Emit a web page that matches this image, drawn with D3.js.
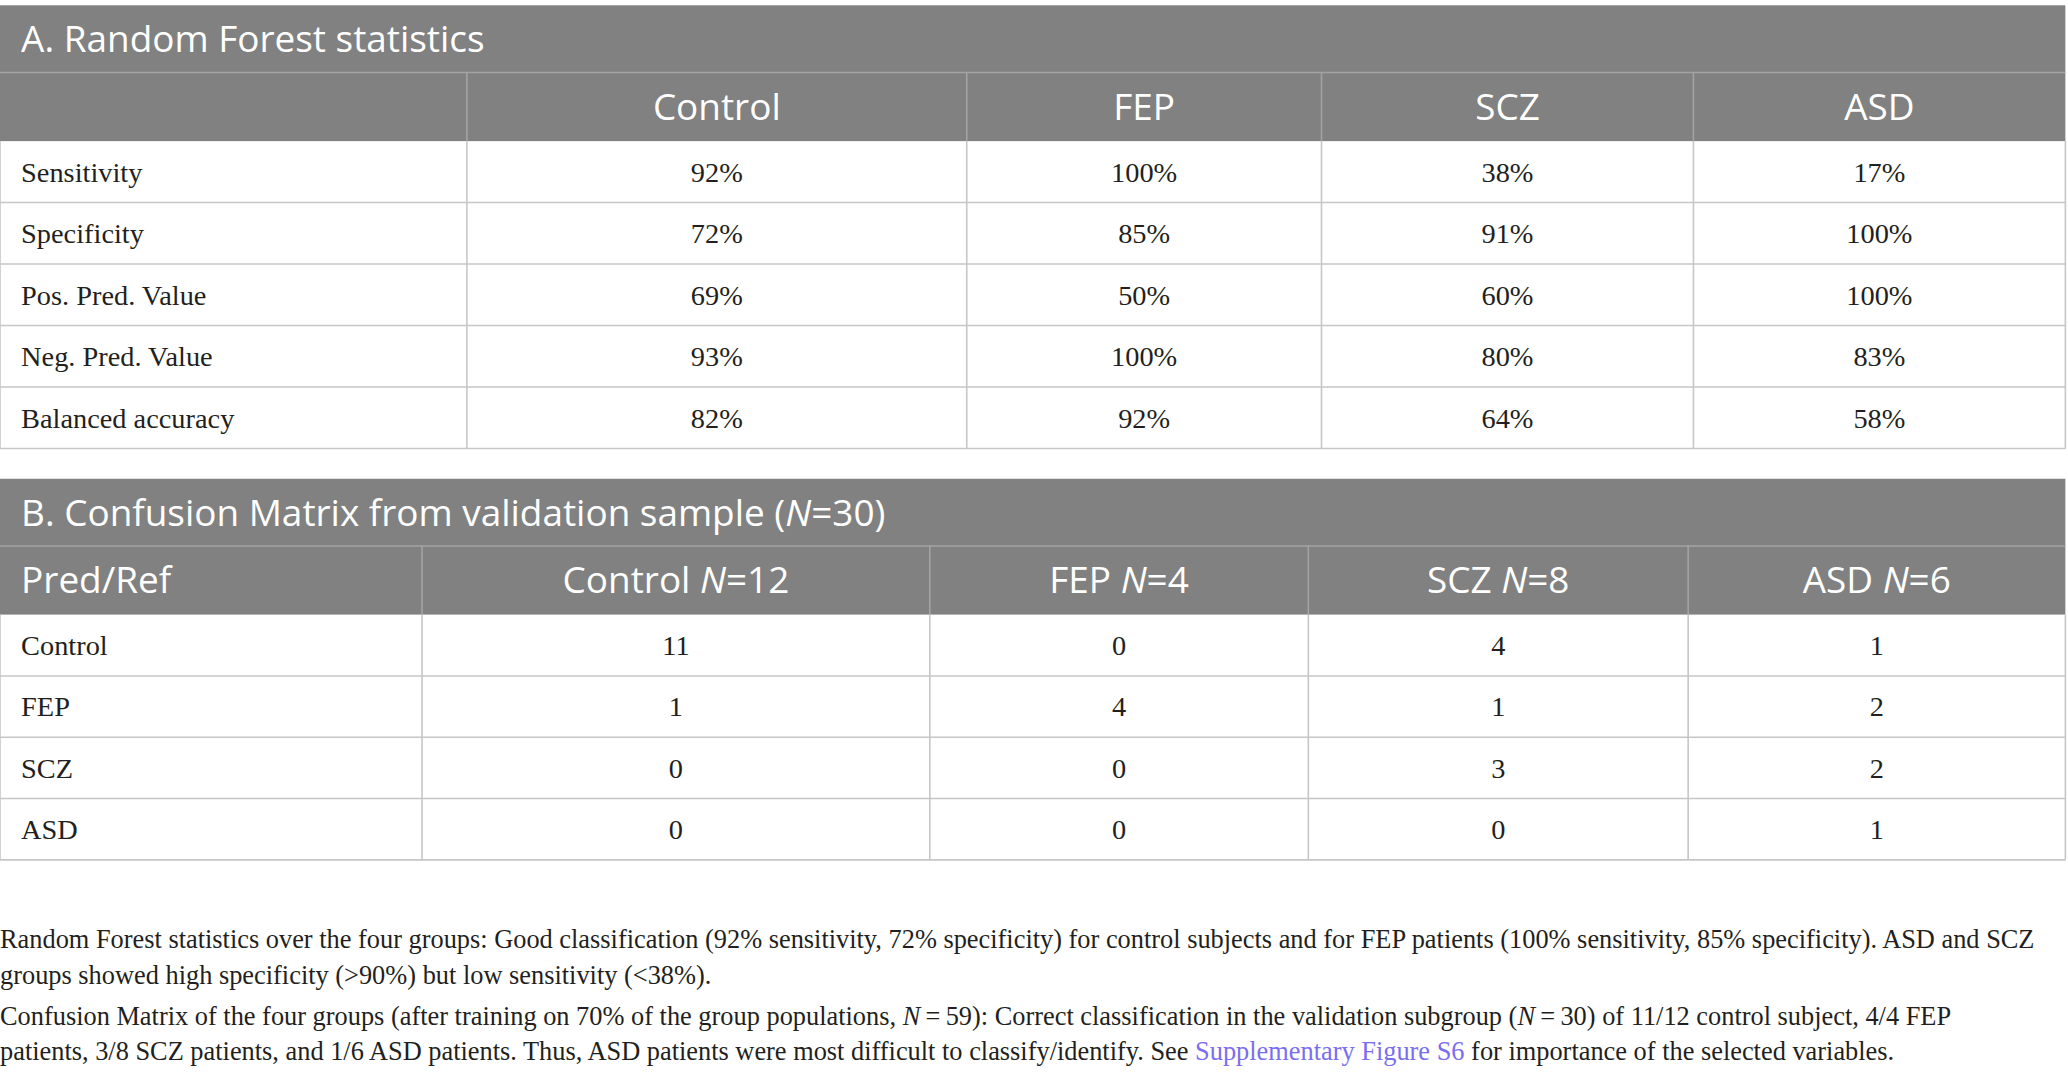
<!DOCTYPE html>
<html>
<head>
<meta charset="utf-8">
<script src="https://cdn.jsdelivr.net/npm/d3@7"></script>
<style>
  html, body { margin: 0; padding: 0; background: #fff; }
  svg { display: block; }
</style>
</head>
<body>
<script>
// table A
const statTitle = "A. Random Forest statistics";
const statGroups = ["Control", "FEP", "SCZ", "ASD"];
const statRows = ["Sensitivity", "Specificity", "Pos. Pred. Value", "Neg. Pred. Value", "Balanced accuracy"];
const statValues = [
    [92, 100, 38, 17],
    [72, 85, 91, 100],
    [69, 50, 60, 100],
    [93, 100, 80, 83],
    [82, 92, 64, 58]
];

// table B
const cmGroups = ["Control", "FEP", "SCZ", "ASD"];
const cmN = [12, 4, 8, 6];
const cmTotal = 30;
const cmRows = ["Control", "FEP", "SCZ", "ASD"];
const cmValues = [
    [11, 0, 4, 1],
    [1, 4, 1, 2],
    [0, 0, 3, 2],
    [0, 0, 0, 1]
];

// caption, line by line as in the figure
const caption = [
    [{ t: "Random Forest statistics over the four groups: Good classification (92% sensitivity, 72% specificity) for control subjects and for FEP patients (100% sensitivity, 85% specificity). ASD and SCZ" }],
    [{ t: "groups showed high specificity (>90%) but low sensitivity (<38%)." }],
    [{ t: "Confusion Matrix of the four groups (after training on 70% of the group populations, " }, { t: "N", i: true }, { t: "\u2009=\u200959): Correct classification in the validation subgroup (" }, { t: "N", i: true }, { t: "\u2009=\u200930) of 11/12 control subject, 4/4 FEP" }],
    [{ t: "patients, 3/8 SCZ patients, and 1/6 ASD patients. Thus, ASD patients were most difficult to classify/identify. See " }, { t: "Supplementary Figure S6", link: true }, { t: " for importance of the selected variables." }]
];

// layout in a 1568 x 815 design space, scaled up to the window
const W = 1568, H = 815;
const gray = "#808180";
const rule = "#c6c6c6";
const headRule = "#a3a4a3";
const sans = "'Open Sans', 'Noto Sans', sans-serif";
const serif = "'Liberation Serif', 'DejaVu Serif', serif";
const headSize = 28;
const bodySize = 21.5;

const svg = d3.select("body")
    .append("svg")
    .attr("width", window.innerWidth)
    .attr("height", window.innerHeight)
    .attr("viewBox", `0 0 ${W} ${H}`)
    .attr("preserveAspectRatio", "xMinYMin meet");

const drawTable = (opt) => {
    const g = svg.append("g");
    const left = 0, right = 1566;
    const cols = ["label"].concat(opt.groups);
    const x0 = d3.scaleOrdinal().domain(cols).range(opt.edges.slice(0, -1));
    const x1 = d3.scaleOrdinal().domain(cols).range(opt.edges.slice(1));
    const y = d3.scaleBand().domain(opt.rows).range([opt.bodyTop, opt.bodyBottom]);

    // grey title + header band
    g.append("rect")
        .attr("x", left).attr("y", opt.top)
        .attr("width", right - left).attr("height", opt.bodyTop - opt.top)
        .attr("fill", gray);

    g.append("line")
        .attr("x1", left).attr("x2", right)
        .attr("y1", opt.headTop).attr("y2", opt.headTop)
        .attr("stroke", headRule).attr("stroke-width", 1.2);

    // header column separators
    g.selectAll("line.hsep")
        .data(cols.slice(1))
        .join("line")
        .attr("class", "hsep")
        .attr("x1", (d) => x0(d)).attr("x2", (d) => x0(d))
        .attr("y1", opt.headTop).attr("y2", opt.bodyTop)
        .attr("stroke", headRule).attr("stroke-width", 1.2);

    // title
    const title = g.append("text")
        .attr("x", 16)
        .attr("y", (opt.top + opt.headTop) / 2 + 10)
        .attr("fill", "#fff")
        .attr("font-family", sans)
        .attr("font-size", headSize);
    opt.title.forEach((p) => {
        title.append("tspan").attr("font-style", p.i ? "italic" : null).text(p.t);
    });

    // header labels
    const hy = (opt.headTop + opt.bodyTop) / 2 + 10;
    if (opt.corner) {
        g.append("text")
            .attr("x", 16).attr("y", hy)
            .attr("fill", "#fff")
            .attr("font-family", sans).attr("font-size", headSize)
            .text(opt.corner);
    }
    const heads = g.selectAll("text.head")
        .data(opt.groups)
        .join("text")
        .attr("class", "head")
        .attr("x", (d) => (x0(d) + x1(d)) / 2)
        .attr("y", hy)
        .attr("text-anchor", "middle")
        .attr("fill", "#fff")
        .attr("font-family", sans).attr("font-size", headSize);
    heads.append("tspan").text((d) => d);
    if (opt.n) {
        heads.append("tspan").text(" ");
        heads.append("tspan").attr("font-style", "italic").text("N");
        heads.append("tspan").text((d, i) => "=" + opt.n[i]);
    }

    // body grid
    g.selectAll("line.row")
        .data(opt.rows)
        .join("line")
        .attr("class", "row")
        .attr("x1", left).attr("x2", right)
        .attr("y1", (d) => y(d) + y.bandwidth()).attr("y2", (d) => y(d) + y.bandwidth())
        .attr("stroke", rule).attr("stroke-width", 1.2);

    g.selectAll("line.col")
        .data(cols.concat(["end"]))
        .join("line")
        .attr("class", "col")
        .attr("x1", (d) => d === "end" ? right : x0(d))
        .attr("x2", (d) => d === "end" ? right : x0(d))
        .attr("y1", opt.bodyTop).attr("y2", opt.bodyBottom)
        .attr("stroke", rule).attr("stroke-width", 1.2);

    // row labels
    g.selectAll("text.rlab")
        .data(opt.rows)
        .join("text")
        .attr("class", "rlab")
        .attr("x", 16)
        .attr("y", (d) => y(d) + y.bandwidth() / 2 + 7.5)
        .attr("fill", "#231f20")
        .attr("font-family", serif).attr("font-size", bodySize)
        .text((d) => d);

    // cell values
    g.selectAll("g.r")
        .data(opt.values)
        .join("g")
        .attr("class", "r")
        .attr("transform", (d, i) => `translate(0,${y(opt.rows[i]) + y.bandwidth() / 2 + 7.5})`)
        .selectAll("text")
        .data((d) => d)
        .join("text")
        .attr("x", (d, j) => (x0(opt.groups[j]) + x1(opt.groups[j])) / 2)
        .attr("text-anchor", "middle")
        .attr("fill", "#231f20")
        .attr("font-family", serif).attr("font-size", bodySize)
        .text((d) => d + opt.suffix);
};

drawTable({
    title: [{ t: statTitle }],
    groups: statGroups,
    rows: statRows,
    values: statValues,
    suffix: "%",
    edges: [0, 354, 733, 1002, 1284, 1566],
    top: 4, headTop: 55, bodyTop: 107, bodyBottom: 340
});

drawTable({
    title: [{ t: "B. Confusion Matrix from validation sample (" }, { t: "N", i: true }, { t: "=" + cmTotal + ")" }],
    corner: "Pred/Ref",
    groups: cmGroups,
    n: cmN,
    rows: cmRows,
    values: cmValues,
    suffix: "",
    edges: [0, 320, 705, 992, 1280, 1566],
    top: 363, headTop: 414, bodyTop: 466, bodyBottom: 652
});

// caption
const cap = svg.append("g")
    .attr("font-family", serif)
    .attr("font-size", 20)
    .attr("fill", "#231f20");

const capBase = [719, 746, 777, 804];

caption.forEach((line, i) => {
    const t = cap.append("text").attr("x", 0).attr("y", capBase[i]);
    line.forEach((p) => {
        t.append("tspan")
            .attr("font-style", p.i ? "italic" : null)
            .attr("fill", p.link ? "#7a6ef0" : null)
            .text(p.t);
    });
});
</script>
</body>
</html>
